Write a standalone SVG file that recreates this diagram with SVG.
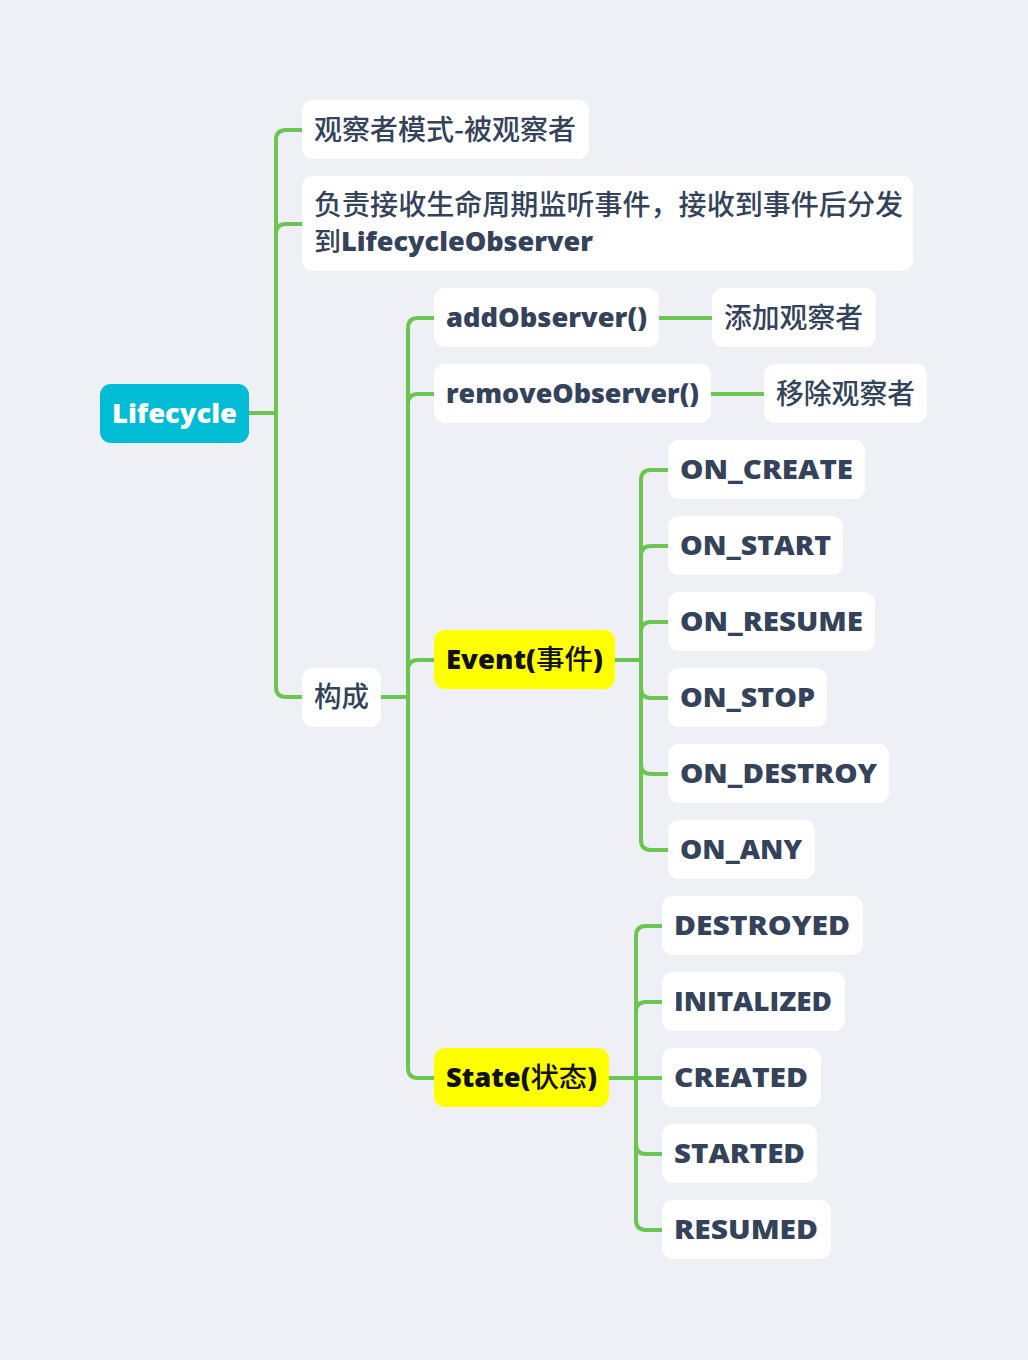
<svg xmlns="http://www.w3.org/2000/svg" width="1028" height="1360" viewBox="0 0 1028 1360">
<style>
.bg{fill:#EEF0F5}
.box{fill:#FFFFFF}
.yel{fill:#FFFF00}
.root{fill:#00BCD4}
.t{font-family:"Open Sans","Noto Sans CJK SC",sans-serif;font-size:26px;font-weight:800;fill:#34425A}
.c{font-family:"Noto Sans CJK SC","Noto Sans",sans-serif;font-size:28px;font-weight:500;fill:#34425A}
.tk{fill:#111111}
.tw{fill:#FFFFFF}
.cj{font-family:"Noto Sans CJK SC",sans-serif;font-weight:500}
.ln{fill:none;stroke:#6CC551;stroke-width:4;stroke-linecap:butt}
</style>
<rect class="bg" x="0" y="0" width="1028" height="1360"/>
<g id="connectors">
<path class="ln" d="M249 413H276"/>
<path class="ln" d="M276 413V140Q276 130 286 130H302"/>
<path class="ln" d="M276 413V234Q276 224 286 224H302"/>
<path class="ln" d="M276 413V687Q276 697 286 697H302"/>
<path class="ln" d="M381 697H408"/>
<path class="ln" d="M408 697V328Q408 318 418 318H434"/>
<path class="ln" d="M408 697V404Q408 394 418 394H434"/>
<path class="ln" d="M408 697V670Q408 660 418 660H434"/>
<path class="ln" d="M408 697V1068Q408 1078 418 1078H434"/>
<path class="ln" d="M659 318H712"/>
<path class="ln" d="M711 394H764"/>
<path class="ln" d="M615 660H641"/>
<path class="ln" d="M641 660V480Q641 470 651 470H668"/>
<path class="ln" d="M641 660V556Q641 546 651 546H668"/>
<path class="ln" d="M641 660V632Q641 622 651 622H668"/>
<path class="ln" d="M641 660V688Q641 698 651 698H668"/>
<path class="ln" d="M641 660V764Q641 774 651 774H668"/>
<path class="ln" d="M641 660V840Q641 850 651 850H668"/>
<path class="ln" d="M609 1078H662"/>
<path class="ln" d="M636 1078V936Q636 926 646 926H662"/>
<path class="ln" d="M636 1078V1012Q636 1002 646 1002H662"/>
<path class="ln" d="M636 1078V1144Q636 1154 646 1154H662"/>
<path class="ln" d="M636 1078V1220Q636 1230 646 1230H662"/>
</g>
<g id="lifecycle"><rect class="root" x="100" y="384" width="149" height="59" rx="11"/><text class="t tw" x="112" y="423" textLength="125" lengthAdjust="spacingAndGlyphs">Lifecycle</text></g>
<g id="n-observer-pattern"><rect class="box" x="302" y="100" width="287" height="59" rx="11"/><text class="c" x="314" y="140" textLength="262" lengthAdjust="spacingAndGlyphs">观察者模式-被观察者</text></g>
<g id="n-responsible"><rect class="box" x="302" y="176" width="611" height="95" rx="11"/><text class="c" x="314" y="215" font-size="26" textLength="589" lengthAdjust="spacingAndGlyphs">负责接收生命周期监听事件，接收到事件后分发</text><text class="t" x="314" y="251" textLength="279" lengthAdjust="spacingAndGlyphs"><tspan class="cj" font-size="26">到</tspan>LifecycleObserver</text></g>
<g id="n-compose"><rect class="box" x="302" y="668" width="79" height="59" rx="11"/><text class="c" x="314" y="707" textLength="55" lengthAdjust="spacingAndGlyphs">构成</text></g>
<g id="n-add"><rect class="box" x="434" y="288" width="225" height="59" rx="11"/><text class="t" x="446" y="327" textLength="201" lengthAdjust="spacingAndGlyphs">addObserver()</text></g>
<g id="n-add-desc"><rect class="box" x="712" y="288" width="164" height="59" rx="11"/><text class="c" x="724" y="328" textLength="139" lengthAdjust="spacingAndGlyphs">添加观察者</text></g>
<g id="n-remove"><rect class="box" x="434" y="364" width="277" height="59" rx="11"/><text class="t" x="446" y="403" textLength="253" lengthAdjust="spacingAndGlyphs">removeObserver()</text></g>
<g id="n-remove-desc"><rect class="box" x="764" y="364" width="163" height="59" rx="11"/><text class="c" x="776" y="404" textLength="139" lengthAdjust="spacingAndGlyphs">移除观察者</text></g>
<g id="n-event"><rect class="yel" x="434" y="630" width="181" height="59" rx="11"/><text class="t tk" x="446" y="669" textLength="157" lengthAdjust="spacingAndGlyphs">Event(<tspan class="cj" font-size="27">事件</tspan>)</text></g>
<g id="n-on-create"><rect class="box" x="668" y="440" width="197" height="59" rx="11"/><text class="t" x="680" y="479" textLength="173" lengthAdjust="spacingAndGlyphs">ON_CREATE</text></g>
<g id="n-on-start"><rect class="box" x="668" y="516" width="175" height="59" rx="11"/><text class="t" x="680" y="555" textLength="151" lengthAdjust="spacingAndGlyphs">ON_START</text></g>
<g id="n-on-resume"><rect class="box" x="668" y="592" width="207" height="59" rx="11"/><text class="t" x="680" y="631" textLength="183" lengthAdjust="spacingAndGlyphs">ON_RESUME</text></g>
<g id="n-on-stop"><rect class="box" x="668" y="668" width="159" height="59" rx="11"/><text class="t" x="680" y="707" textLength="135" lengthAdjust="spacingAndGlyphs">ON_STOP</text></g>
<g id="n-on-destroy"><rect class="box" x="668" y="744" width="221" height="59" rx="11"/><text class="t" x="680" y="783" textLength="197" lengthAdjust="spacingAndGlyphs">ON_DESTROY</text></g>
<g id="n-on-any"><rect class="box" x="668" y="820" width="147" height="59" rx="11"/><text class="t" x="680" y="859" textLength="122" lengthAdjust="spacingAndGlyphs">ON_ANY</text></g>
<g id="n-state"><rect class="yel" x="434" y="1048" width="175" height="59" rx="11"/><text class="t tk" x="446" y="1087" textLength="151" lengthAdjust="spacingAndGlyphs">State(<tspan class="cj" font-size="27">状态</tspan>)</text></g>
<g id="n-destroyed"><rect class="box" x="662" y="896" width="201" height="59" rx="11"/><text class="t" x="674" y="935" textLength="176" lengthAdjust="spacingAndGlyphs">DESTROYED</text></g>
<g id="n-initalized"><rect class="box" x="662" y="972" width="183" height="59" rx="11"/><text class="t" x="674" y="1011" textLength="158" lengthAdjust="spacingAndGlyphs">INITALIZED</text></g>
<g id="n-created"><rect class="box" x="662" y="1048" width="159" height="59" rx="11"/><text class="t" x="674" y="1087" textLength="134" lengthAdjust="spacingAndGlyphs">CREATED</text></g>
<g id="n-started"><rect class="box" x="662" y="1124" width="155" height="59" rx="11"/><text class="t" x="674" y="1163" textLength="131" lengthAdjust="spacingAndGlyphs">STARTED</text></g>
<g id="n-resumed"><rect class="box" x="662" y="1200" width="169" height="59" rx="11"/><text class="t" x="674" y="1239" textLength="144" lengthAdjust="spacingAndGlyphs">RESUMED</text></g>
</svg>
